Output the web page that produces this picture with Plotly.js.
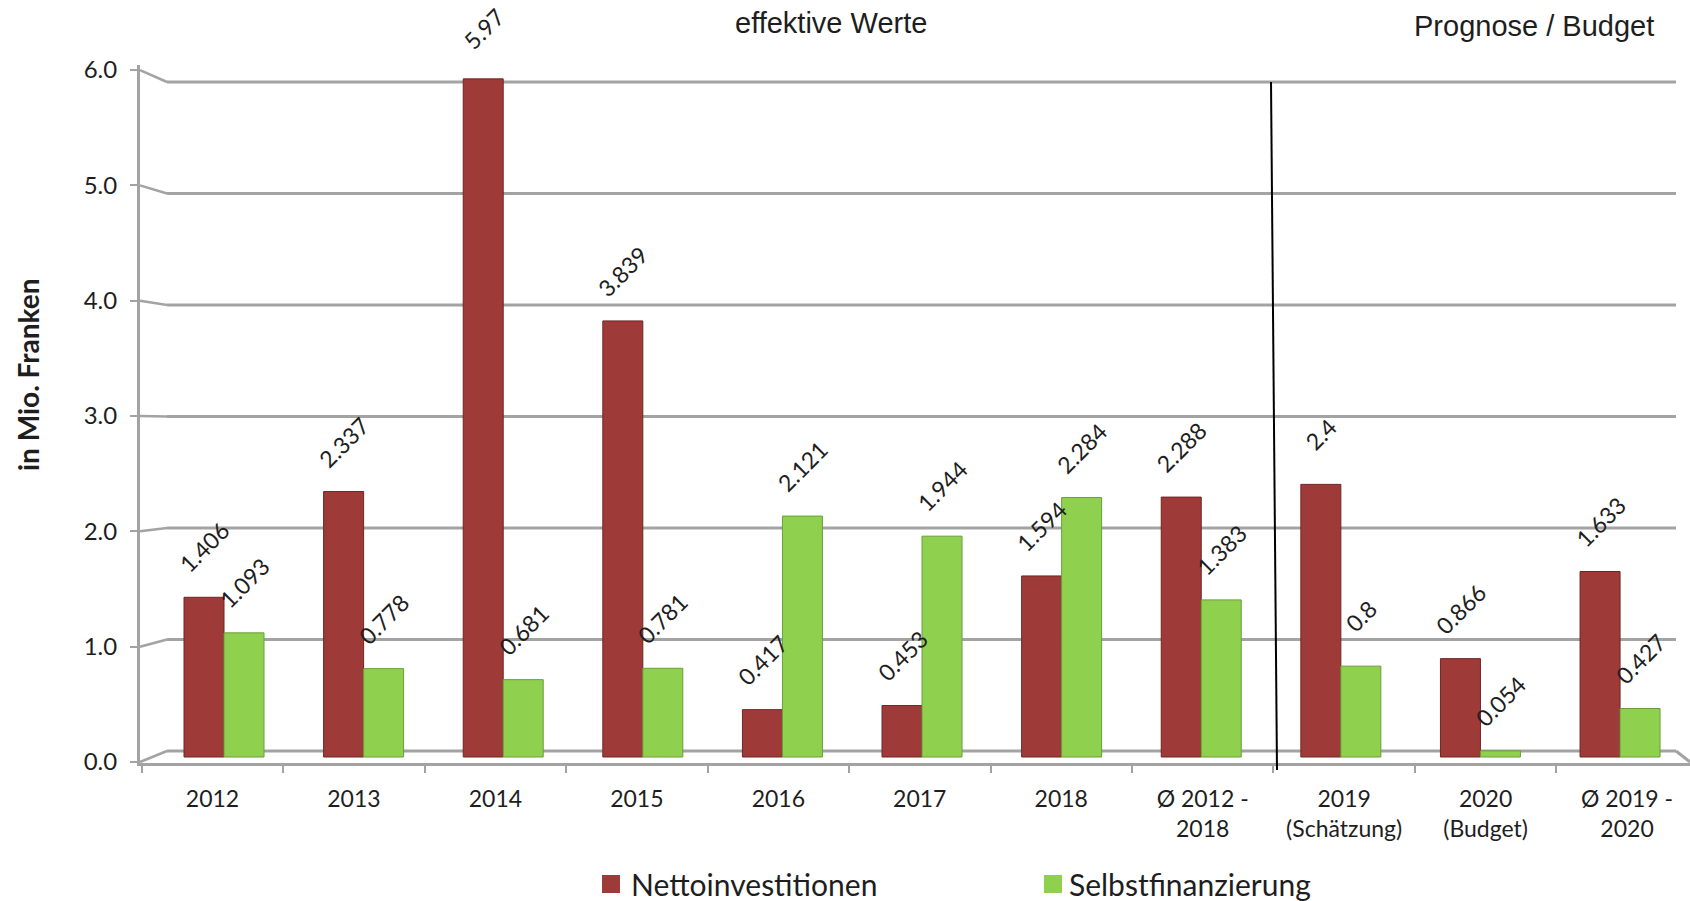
<!DOCTYPE html>
<html>
<head>
<meta charset="utf-8">
<script src="https://cdn.plot.ly/plotly-3.0.1.min.js"></script>
<style>html,body{margin:0;padding:0;background:#fff;}#chart{width:1690px;height:901px;}</style>
</head>
<body>
<div id="chart"></div>
<script>
// ---------- data ----------
const categories = ['2012','2013','2014','2015','2016','2017','2018','Ø 2012 -<br>2018','2019<br>(Schätzung)','2020<br>(Budget)','Ø 2019 -<br>2020'];
const seriesNames = ['Nettoinvestitionen','Selbstfinanzierung'];
const nettoinvestitionen = [1.406, 2.337, 5.97, 3.839, 0.417, 0.453, 1.594, 2.288, 2.4, 0.866, 1.633];
const selbstfinanzierung = [1.093, 0.778, 0.681, 0.781, 2.121, 1.944, 2.284, 1.383, 0.8, 0.054, 0.427];
const yTicks = [0, 1, 2, 3, 4, 5, 6];
const sectionTitles = ['effektive Werte', 'Prognose / Budget'];
const yTitle = 'in Mio. Franken';

// ---------- styling / geometry ----------
const RED = '#9E3B38', RED_EDGE = '#6E2624';
const GREEN = '#8FD14F', GREEN_EDGE = '#6A9E38';
const GRID = '#a3a3a3';
const TXT = '#1e1e1e';
const FONT = 'Lato, "Open Sans", sans-serif';
const L = 140, T = 65, W = 1550, H = 698;
const px = x => (x - L) / W;
const py = y => (T + H - y) / H;
const backY = v => 751 - v * 111.5;   // back wall grid
const frontY = v => 762 - v * 115.33; // front axis ticks
const barW = 0.2865;

const idx = categories.map((c, i) => i);
const boundaries = categories.map((c, i) => i - 0.5).concat([categories.length - 0.5]);

const traces = [
  {type:'bar', name: seriesNames[0], x: idx, y: nettoinvestitionen,
   offset: -barW, width: barW, marker:{color: RED, line:{color: RED_EDGE, width:1}},
   hoverinfo:'y', showlegend:false},
  {type:'bar', name: seriesNames[1], x: idx, y: selbstfinanzierung,
   offset: 0, width: barW, marker:{color: GREEN, line:{color: GREEN_EDGE, width:1}},
   hoverinfo:'y', showlegend:false},
  // empty helper traces so that the overlaid label axes are drawn
  {type:'scatter', mode:'markers', x:[], y:[], xaxis:'x2', yaxis:'y', showlegend:false, hoverinfo:'skip'},
  {type:'scatter', mode:'markers', x:[], y:[], xaxis:'x', yaxis:'y2', showlegend:false, hoverinfo:'skip'}
];

const shapes = [];
yTicks.forEach(v => {
  shapes.push({type:'line', layer:'below', xref:'paper', yref:'paper',
    x0: px(167), x1: px(1676), y0: py(backY(v)), y1: py(backY(v)),
    line:{color: GRID, width: 3}});
  shapes.push({type:'line', layer:'below', xref:'paper', yref:'paper',
    x0: px(140), x1: px(167), y0: py(frontY(v)), y1: py(backY(v)),
    line:{color: GRID, width: 2.5}});
});
shapes.push({type:'line', layer:'below', xref:'paper', yref:'paper',
  x0: px(1676), x1: px(1690), y0: py(backY(0)), y1: py(762), line:{color: GRID, width: 3}});
shapes.push({type:'line', xref:'paper', yref:'paper',
  x0: px(1271), x1: px(1277), y0: py(backY(6)), y1: py(770), line:{color:'#000', width: 2}});
shapes.push({type:'rect', xref:'paper', yref:'paper', x0: px(602), x1: px(620), y0: py(893), y1: py(875),
  fillcolor: RED, line:{width:0}});
shapes.push({type:'rect', xref:'paper', yref:'paper', x0: px(1044), x1: px(1062), y0: py(893), y1: py(875),
  fillcolor: GREEN, line:{width:0}});

const annotations = [];
[nettoinvestitionen, selbstfinanzierung].forEach((vals, s) => {
  vals.forEach((v, i) => {
    annotations.push({xref:'x', yref:'y', x: i, y: v,
      xshift: s === 0 ? -20 : 20, yshift: 50, text: String(v), textangle: -45,
      showarrow:false, xanchor:'center', yanchor:'middle',
      font:{family: FONT, size: 23, color: TXT}});
  });
});
annotations.push({xref:'paper', yref:'paper', x: px(831), y: py(23), text: sectionTitles[0],
  showarrow:false, xanchor:'center', yanchor:'middle',
  font:{family:'"Liberation Sans", Arial, sans-serif', size: 29, color: TXT}});
annotations.push({xref:'paper', yref:'paper', x: px(1534), y: py(26), text: sectionTitles[1],
  showarrow:false, xanchor:'center', yanchor:'middle',
  font:{family:'"Liberation Sans", Arial, sans-serif', size: 29, color: TXT}});
annotations.push({xref:'paper', yref:'paper', x: px(28), y: py(374), text: '<b>' + yTitle + '</b>',
  textangle: -90, showarrow:false, xanchor:'center', yanchor:'middle',
  font:{family: FONT, size: 28, color: TXT}});
annotations.push({xref:'paper', yref:'paper', x: px(629), y: py(884), text: seriesNames[0],
  showarrow:false, xanchor:'left', yanchor:'middle', font:{family: FONT, size: 30, color: TXT}});
annotations.push({xref:'paper', yref:'paper', x: px(1067), y: py(884), text: seriesNames[1],
  showarrow:false, xanchor:'left', yanchor:'middle', font:{family: FONT, size: 30, color: TXT}});

const layout = {
  width: 1690, height: 901,
  margin: {l: L, r: 1690 - L - W, t: T, b: 901 - T - H, pad: 0},
  paper_bgcolor: '#fff', plot_bgcolor: 'rgba(0,0,0,0)',
  barmode: 'overlay',
  showlegend: false,
  xaxis: {type:'linear', range:[-0.6017, 10.501], showticklabels:false, ticks:'',
    showline:true, linecolor: GRID, linewidth: 3, showgrid:false, zeroline:false, fixedrange:true},
  xaxis2: {overlaying:'x', anchor:'y', side:'bottom', type:'linear', range:[-0.5126, 10.445],
    tickmode:'array', tickvals: idx, ticktext: categories, ticks:'', showline:false,
    showgrid:false, zeroline:false, ticklabelstandoff: 20,
    tickfont:{family: FONT, size: 23, color: TXT},
    minor:{tickmode:'array', tickvals: boundaries, ticks:'outside', ticklen: 9, tickwidth: 2,
      tickcolor: GRID, showgrid:false}},
  yaxis: {range:[-0.0528, 6.092], visible:false, fixedrange:true},
  yaxis2: {overlaying:'y', anchor:'x', side:'left', range:[-0.00867, 6.0433],
    tickmode:'array', tickvals: yTicks, ticktext: yTicks.map(v => v.toFixed(1)),
    ticks:'outside', ticklen: 7, tickwidth: 2, tickcolor: GRID,
    showline:true, linecolor: GRID, linewidth: 3, showgrid:false, zeroline:false,
    ticklabelstandoff: 8, tickfont:{family: FONT, size: 24, color: TXT}},
  shapes: shapes,
  annotations: annotations
};

Plotly.newPlot('chart', traces, layout, {displayModeBar:false, staticPlot:true});
</script>
</body>
</html>
